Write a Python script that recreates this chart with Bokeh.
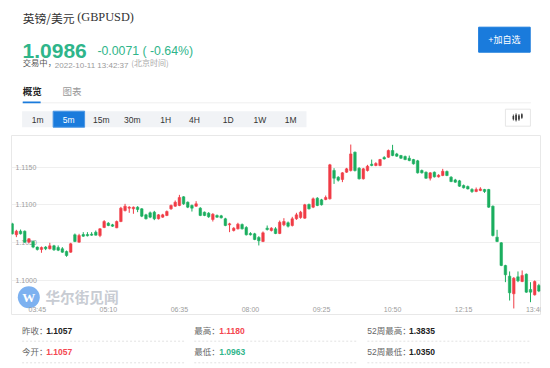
import numpy as np
from bokeh.plotting import figure
from bokeh.layouts import column
from bokeh.models import Range1d, ColumnDataSource, Grid, FixedTicker
from bokeh.core.properties import value
from bokeh.embed import file_html
from bokeh.resources import INLINE

# ---------------- data (GBPUSD, 5-minute candles, 03:15 .. 13:45) ----------------
opens = [
    1.10750, 1.10605, 1.10653, 1.10653, 1.10508, 1.10517, 1.10442, 1.10411, 1.10442, 1.10420,
    1.10459, 1.10437, 1.10420, 1.10384, 1.10375, 1.10605, 1.10508, 1.10609, 1.10609, 1.10614,
    1.10640, 1.10596, 1.10702, 1.10759, 1.10737, 1.10697, 1.10781, 1.10927, 1.10958, 1.10949,
    1.10971, 1.10949, 1.10869, 1.10896, 1.10905, 1.10817, 1.10839, 1.10861, 1.10949, 1.10984,
    1.10993, 1.11108, 1.11037, 1.10993, 1.10984, 1.10958, 1.10905, 1.10891, 1.10808, 1.10861,
    1.10856, 1.10817, 1.10737, 1.10662, 1.10684, 1.10741, 1.10702, 1.10622, 1.10618, 1.10570,
    1.10517, 1.10693, 1.10662, 1.10684, 1.10622, 1.10737, 1.10764, 1.10728, 1.10817, 1.10834,
    1.10825, 1.11006, 1.10971, 1.11090, 1.11068, 1.11072, 1.11081, 1.11456, 1.11368, 1.11337,
    1.11434, 1.11456, 1.11699, 1.11487, 1.11346, 1.11456, 1.11540, 1.11522, 1.11522, 1.11628,
    1.11632, 1.11721, 1.11676, 1.11654, 1.11641, 1.11619, 1.11601, 1.11584, 1.11456, 1.11434,
    1.11354, 1.11434, 1.11372, 1.11390, 1.11443, 1.11368, 1.11332, 1.11319, 1.11257, 1.11244,
    1.11205, 1.11178, 1.11191, 1.11205, 1.11205, 1.10984, 1.10574, 1.10499, 1.10199, 1.10058,
    1.09824, 1.10049, 1.09987, 1.10084, 1.09881, 1.09810, 1.09934]
closes = [
    1.10618, 1.10653, 1.10618, 1.10508, 1.10552, 1.10442, 1.10411, 1.10437, 1.10420, 1.10459,
    1.10406, 1.10402, 1.10375, 1.10331, 1.10486, 1.10517, 1.10596, 1.10587, 1.10592, 1.10600,
    1.10600, 1.10684, 1.10781, 1.10728, 1.10719, 1.10781, 1.10958, 1.10984, 1.10971, 1.10971,
    1.10940, 1.10852, 1.10817, 1.10839, 1.10817, 1.10869, 1.10869, 1.10913, 1.10993, 1.11037,
    1.11099, 1.11015, 1.10971, 1.10958, 1.11015, 1.10861, 1.10861, 1.10843, 1.10878, 1.10839,
    1.10830, 1.10728, 1.10750, 1.10693, 1.10746, 1.10684, 1.10605, 1.10605, 1.10543, 1.10525,
    1.10631, 1.10675, 1.10693, 1.10622, 1.10772, 1.10781, 1.10719, 1.10817, 1.10869, 1.10905,
    1.11002, 1.10949, 1.11081, 1.10993, 1.11002, 1.11099, 1.11531, 1.11354, 1.11328, 1.11425,
    1.11478, 1.11676, 1.11456, 1.11346, 1.11478, 1.11513, 1.11522, 1.11549, 1.11601, 1.11610,
    1.11721, 1.11654, 1.11646, 1.11619, 1.11601, 1.11588, 1.11544, 1.11425, 1.11425, 1.11354,
    1.11425, 1.11372, 1.11394, 1.11447, 1.11390, 1.11310, 1.11302, 1.11249, 1.11227, 1.11213,
    1.11178, 1.11205, 1.11213, 1.11178, 1.10971, 1.10596, 1.10517, 1.10199, 1.10076, 1.09837,
    1.10031, 1.09996, 1.10067, 1.09846, 1.09846, 1.09987, 1.09860]
highs = [
    1.10764, 1.10671, 1.10675, 1.10662, 1.10561, 1.10530, 1.10450, 1.10450, 1.10455, 1.10499,
    1.10472, 1.10464, 1.10442, 1.10397, 1.10499, 1.10622, 1.10618, 1.10640, 1.10640, 1.10640,
    1.10662, 1.10693, 1.10799, 1.10772, 1.10750, 1.10794, 1.10975, 1.11015, 1.10984, 1.10980,
    1.10984, 1.10958, 1.10883, 1.10913, 1.10922, 1.10878, 1.10883, 1.10927, 1.11006, 1.11059,
    1.11134, 1.11116, 1.11046, 1.11006, 1.11050, 1.10971, 1.10913, 1.10905, 1.10891, 1.10874,
    1.10869, 1.10830, 1.10764, 1.10706, 1.10764, 1.10755, 1.10719, 1.10640, 1.10631, 1.10587,
    1.10649, 1.10728, 1.10706, 1.10706, 1.10794, 1.10825, 1.10781, 1.10843, 1.10896, 1.10922,
    1.11015, 1.11019, 1.11099, 1.11103, 1.11081, 1.11125, 1.11544, 1.11487, 1.11381, 1.11434,
    1.11491, 1.11800, 1.11707, 1.11500, 1.11491, 1.11531, 1.11601, 1.11566, 1.11610, 1.11646,
    1.11734, 1.11796, 1.11690, 1.11663, 1.11654, 1.11654, 1.11610, 1.11597, 1.11469, 1.11443,
    1.11434, 1.11443, 1.11407, 1.11478, 1.11456, 1.11381, 1.11346, 1.11332, 1.11271, 1.11257,
    1.11222, 1.11231, 1.11235, 1.11213, 1.11213, 1.10993, 1.10671, 1.10508, 1.10208, 1.10120,
    1.10045, 1.10120, 1.10133, 1.10093, 1.09978, 1.10001, 1.09956]
lows = [
    1.10609, 1.10574, 1.10609, 1.10499, 1.10499, 1.10428, 1.10397, 1.10367, 1.10402, 1.10411,
    1.10393, 1.10389, 1.10367, 1.10314, 1.10367, 1.10508, 1.10499, 1.10578, 1.10583, 1.10592,
    1.10596, 1.10574, 1.10693, 1.10719, 1.10711, 1.10693, 1.10772, 1.10913, 1.10896, 1.10883,
    1.10905, 1.10839, 1.10808, 1.10825, 1.10799, 1.10808, 1.10830, 1.10852, 1.10936, 1.10975,
    1.10984, 1.11002, 1.10958, 1.10913, 1.10975, 1.10852, 1.10852, 1.10830, 1.10781, 1.10830,
    1.10821, 1.10719, 1.10640, 1.10649, 1.10675, 1.10675, 1.10596, 1.10596, 1.10534, 1.10464,
    1.10508, 1.10662, 1.10649, 1.10614, 1.10614, 1.10719, 1.10702, 1.10715, 1.10803, 1.10817,
    1.10817, 1.10940, 1.10958, 1.10984, 1.10993, 1.11063, 1.11072, 1.11279, 1.11310, 1.11302,
    1.11425, 1.11443, 1.11443, 1.11337, 1.11337, 1.11443, 1.11513, 1.11513, 1.11513, 1.11601,
    1.11624, 1.11646, 1.11637, 1.11610, 1.11593, 1.11579, 1.11535, 1.11416, 1.11416, 1.11346,
    1.11324, 1.11363, 1.11363, 1.11381, 1.11381, 1.11302, 1.11293, 1.11240, 1.11218, 1.11205,
    1.11160, 1.11169, 1.11182, 1.11160, 1.10962, 1.10583, 1.10508, 1.10190, 1.09978, 1.09735,
    1.09630, 1.09978, 1.09978, 1.09837, 1.09713, 1.09801, 1.09846]

y_ticks = [1.1000, 1.1050, 1.1100, 1.1150]
y_tick_labels = ["1.1000", "1.1050", "1.1100", "1.1150"]
x_tick_pos = [6, 23, 40, 57, 74, 91, 108, 125]
x_tick_labels = ["03:45", "05:10", "06:35", "08:00", "09:25", "10:50", "12:15", "13:40"]

intervals = ["1m", "5m", "15m", "30m", "1H", "4H", "1D", "1W", "1M"]
selected_interval = "5m"

stat_labels = ["昨收：", "今开：", "最高：", "最低：", "52周最高：", "52周最低："]
stat_values = ["1.1057", "1.1057", "1.1180", "1.0963", "1.3835", "1.0350"]

# ---------------- styles ----------------
UP = "#f03c46"
DOWN = "#1bae5f"
TEAL = "#2fb58a"
RED_TXT = "#f4474f"
BLUE = "#1a7bdc"
SANS = "Liberation Sans, Noto Sans CJK SC"
CJK = "Noto Sans CJK SC"
W = 550


def txt(fig, x, y, s, size, color, bold=False, font=SANS, align="left", baseline="middle"):
    fig.text(x=[x], y=[y], text=[s], text_font=value(font), text_font_size=size,
             text_color=color, text_font_style="bold" if bold else "normal",
             text_align=align, text_baseline=baseline)


def page_fig(y0, y1):
    f = figure(width=W, height=y1 - y0, x_range=Range1d(0, W), y_range=Range1d(y1, y0),
               x_axis_type=None, y_axis_type=None, toolbar_location=None,
               output_backend="svg", min_border=0, outline_line_color=None)
    return f


# ---------------- header ----------------
hdr = page_fig(0, 134)
txt(hdr, 11.7, 16.7, "英镑/美元", "11.8px", "#333333", font=CJK)
txt(hdr, 68.3, 16.9, "(GBPUSD)", "12.3px", "#333333", font="Liberation Serif")
txt(hdr, 11.5, 50, "1.0986", "21px", TEAL, bold=True, baseline="alphabetic")
txt(hdr, 89.3, 50.6, "-0.0071 ( -0.64%)", "12.3px", TEAL, baseline="alphabetic")
txt(hdr, 11.7, 61.8, "交易中，", "8.3px", "#555555", font=CJK)
txt(hdr, 45, 65.2, "2022-10-11 13:42:37", "8px", "#9a9a9a", baseline="alphabetic")
txt(hdr, 124.5, 61.8, "(北京时间)", "8px", "#aaaaaa", font=CJK)

hdr.quad(left=[485.7], right=[539.3], top=[26.7], bottom=[51.7], fill_color=BLUE, line_color=BLUE)
txt(hdr, 512.5, 39.3, "+加自选", "9px", "#ffffff", align="center")

hdr.segment(x0=[11], y0=[102.3], x1=[540], y1=[102.3], line_color="#efefef", line_width=1)
txt(hdr, 11.7, 90.5, "概览", "9.5px", "#222222", bold=True, font=CJK)
txt(hdr, 53, 90.5, "图表", "9.5px", "#999999", font=CJK)
hdr.quad(left=[11.7], right=[30.3], top=[101], bottom=[102.7], fill_color=BLUE, line_color=None)

hdr.quad(left=[11], right=[306.7], top=[110.7], bottom=[126.7], fill_color="#f1f3f6", line_color=None)
tab_x = [27.3, 59.5, 93.3, 125.5, 160.3, 190.3, 225.3, 258.3, 290.3]
for cx, lab in zip(tab_x, intervals):
    if lab == selected_interval:
        hdr.quad(left=[43.3], right=[76], top=[110.7], bottom=[126.7], fill_color=BLUE,
                 line_color="#4a96e4")
        txt(hdr, cx, 119, lab, "8.5px", "#ffffff", align="center")
    else:
        txt(hdr, cx, 119, lab, "8.5px", "#333333", align="center")

hdr.quad(left=[513.5], right=[539.5], top=[108.7], bottom=[125.7], fill_color="#ffffff",
         line_color="#e6e6e6")
hdr.segment(x0=[521.8, 524.6, 527.6, 530.6], y0=[114.0, 112.8, 113.6, 112.8],
            x1=[521.8, 524.6, 527.6, 530.6], y1=[120.0, 121.0, 120.4, 118.4],
            line_color="#333333", line_width=0.8)
hdr.quad(left=[521.0, 523.8, 526.8, 529.8], right=[522.6, 525.4, 528.4, 531.4],
         top=[115.6, 114.2, 115.0, 113.8], bottom=[118.8, 119.8, 119.0, 117.2],
         fill_color="#333333", line_color=None)

# ---------------- chart ----------------
idx = np.arange(len(opens))
o = np.array(opens)
c = np.array(closes)
src = ColumnDataSource(dict(
    x=idx, high=highs, low=lows,
    top=np.maximum(o, c), bottom=np.minimum(o, c),
    color=[UP if cc >= oo else DOWN for oo, cc in zip(opens, closes)],
))

y_lo, y_hi = 1.095500, 1.119196
x_lo, x_hi = -0.167, 126.39
chart = figure(width=W, height=181, x_range=Range1d(x_lo, x_hi), y_range=Range1d(y_lo, y_hi),
               x_axis_type=None, y_axis_type=None, toolbar_location=None, output_backend="svg",
               min_border_left=11, min_border_right=10, min_border_top=1, min_border_bottom=1,
               outline_line_color="#e8e8e8")
chart.add_layout(Grid(dimension=1, ticker=FixedTicker(ticks=y_ticks),
                      grid_line_color="#efefef", grid_line_width=1))

# watermark
chart.scatter(x=[3.97], y=[1.09779], size=22, fill_color="#7db1f0", line_color=None)
chart.text(x=[3.97], y=[1.09779], text=["W"], text_font=value("Liberation Serif"),
           text_font_size="13px", text_font_style="bold", text_color="#ffffff",
           text_align="center", text_baseline="middle")
chart.text(x=[7.97], y=[1.09784], text=["华尔街见闻"], text_font=value(CJK),
           text_font_size="14.6px", text_font_style="bold", text_color="#c8ccd3",
           text_align="left", text_baseline="middle")

chart.text(x=[x_lo] * len(y_ticks), y=y_ticks, text=y_tick_labels, x_offset=4,
           text_font=value("Liberation Sans"), text_font_size="7px", text_color="#9c9c9c",
           text_align="left", text_baseline="alphabetic")
chart.text(x=x_tick_pos, y=[1.09612] * len(x_tick_pos), text=x_tick_labels,
           text_font=value("Liberation Sans"), text_font_size="7px", text_color="#9c9c9c",
           text_align="center", text_baseline="alphabetic")

chart.segment(x0="x", y0="low", x1="x", y1="high", line_color="color", line_width=1, source=src)
chart.vbar(x="x", width=0.62, top="top", bottom="bottom", fill_color="color",
           line_color="color", line_width=0.5, source=src)

# ---------------- footer ----------------
ftr = page_fig(315, 368)
col_x = [11, 190, 370]
val_x = [36, 216, 413.3]
row_y = [330, 351.7]
val_colors = ["#222222", RED_TXT, RED_TXT, TEAL, "#222222", "#222222"]
for k, (lab, val) in enumerate(zip(stat_labels, stat_values)):
    col = k // 2
    row = k % 2
    txt(ftr, col_x[col], row_y[row], lab, "8.5px", "#666666")
    txt(ftr, val_x[col], row_y[row], val, "8.5px", val_colors[k], bold=True)
ftr.segment(x0=[11, 190, 370] * 2, y0=[340.7] * 3 + [362.3] * 3,
            x1=[181, 360, 540] * 2, y1=[340.7] * 3 + [362.3] * 3,
            line_color="#e2e2e2", line_dash="2 2", line_width=1)

layout = column(hdr, chart, ftr, spacing=0)
open("out.html", "w").write(file_html(layout, INLINE))
